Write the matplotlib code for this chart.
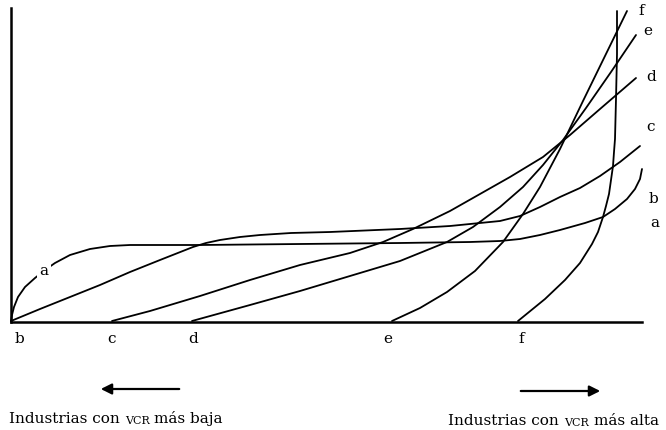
import matplotlib
matplotlib.use("Agg")
import matplotlib.pyplot as plt
from matplotlib.patches import FancyArrowPatch

# curves (x = industry position, y = VCR)
a_x = [0, 1, 3, 7, 14, 24, 34, 44, 59, 69, 79, 99, 119, 189, 289, 389, 459, 489, 509, 529, 549, 574, 592, 604, 616, 624, 629, 631]
a_y = [1, 7, 15, 25, 35, 44, 52, 59, 67, 70, 73, 76, 77, 77, 78, 79, 80, 81, 83, 87, 92, 99, 105, 113, 123, 133, 143, 153]

b_x = [0, 29, 59, 89, 119, 149, 182, 195, 209, 229, 249, 280, 319, 389, 439, 489, 509, 529, 549, 569, 589, 609, 629]
b_y = [1, 13, 25, 37, 50, 62, 75, 79, 82, 85, 87, 89, 90, 93, 96, 101, 106, 115, 125, 134, 146, 160, 176]

c_x = [101, 139, 189, 239, 289, 339, 372, 402, 439, 469, 499, 532, 559, 589, 625]
c_y = [1, 11, 26, 42, 57, 69, 80, 93, 111, 128, 145, 165, 187, 213, 244]

d_x = [181, 239, 289, 339, 389, 436, 462, 489, 512, 532, 552, 575, 600, 625]
d_y = [1, 17, 31, 46, 61, 80, 95, 115, 135, 157, 182, 214, 250, 287]

e_x = [381, 409, 436, 464, 492, 512, 529, 549, 572, 594, 616]
e_y = [1, 14, 30, 51, 80, 108, 135, 173, 221, 266, 311]

f_x = [507, 534, 554, 569, 581, 587, 592, 595, 598, 600, 602, 603, 604, 605, 606, 606]
f_y = [1, 23, 42, 59, 78, 90, 105, 116, 128, 142, 156, 170, 183, 223, 268, 311]

curves = [(a_x, a_y), (b_x, b_y), (c_x, c_y), (d_x, d_y), (e_x, e_y), (f_x, f_y)]

# letters on the axis and at the end of the curves
start_labels = ["b", "c", "d", "e", "f"]
start_pos = [8, 101, 182, 377, 510]
end_labels = ["f", "e", "d", "c", "b", "a"]
end_x = [627, 632, 635, 635, 638, 639]
end_y = [312, 292, 246, 196, 124, 100]

fig = plt.figure(figsize=(6.66, 4.31), dpi=100)
ax = fig.add_axes([11 / 666, 108 / 431, 631 / 666, 314 / 431])
ax.set_xlim(0, 631)
ax.set_ylim(0, 314)
for s in ["top", "right"]:
    ax.spines[s].set_visible(False)
ax.spines["left"].set_linewidth(1.8)
ax.spines["bottom"].set_linewidth(1.8)
ax.set_xticks([])
ax.set_yticks([])

for cx, cy in curves:
    ax.plot(cx, cy, color="black", lw=1.3, clip_on=False,
            solid_capstyle="round", solid_joinstyle="round")

serif = "DejaVu Serif"

# label "a" sitting on its curve
ax.text(33, 52, "a", ha="center", va="center", fontsize=11, family=serif,
        bbox=dict(facecolor="white", edgecolor="none", pad=1.5))

for lab, x in zip(start_labels, start_pos):
    ax.text(x, -16, lab, ha="center", va="center", fontsize=11, family=serif)

for lab, x, y in zip(end_labels, end_x, end_y):
    ax.text(x, y, lab, ha="left", va="center", fontsize=11, family=serif, clip_on=False)

# arrows under the axis
fig.add_artist(FancyArrowPatch((182 / 666, 1 - 390 / 431), (98 / 666, 1 - 390 / 431),
               transform=fig.transFigure, arrowstyle="-|>", mutation_scale=16, lw=1.6, color="black"))
fig.add_artist(FancyArrowPatch((518 / 666, 1 - 392 / 431), (603 / 666, 1 - 392 / 431),
               transform=fig.transFigure, arrowstyle="-|>", mutation_scale=16, lw=1.6, color="black"))


def caption(x, y, tail):
    # "VCR" in small caps between the two parts
    t1 = fig.text(x / 666, 1 - y / 431, "Industrias con", fontsize=11, family=serif, va="bottom")
    t2 = fig.text(0, 0, "VCR", fontsize=8, family=serif, va="bottom")
    t3 = fig.text(0, 0, tail, fontsize=11, family=serif, va="bottom")
    r = fig.canvas.get_renderer()
    bb = t1.get_window_extent(r)
    t2.set_position(((bb.x1 + 5) / 666, 1 - y / 431))
    bb2 = t2.get_window_extent(r)
    t3.set_position(((bb2.x1 + 5) / 666, 1 - y / 431))


caption(9, 426, "más baja")
caption(448, 428, "más alta")

fig.savefig("out.png", dpi=100, facecolor="white")
